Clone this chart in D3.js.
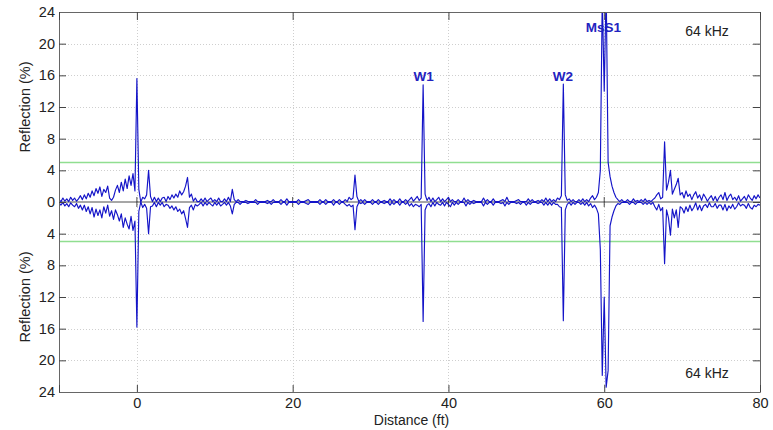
<!DOCTYPE html>
<html><head><meta charset="utf-8">
<script src="https://cdn.jsdelivr.net/npm/d3@7/dist/d3.min.js"></script>
<style>body{margin:0;background:#fff}svg{display:block}text{font-family:Arial,"Liberation Sans",sans-serif}</style>
</head><body><div id="chart"></div>
<script>
// ---- data ----
const distStart = -10, distStep = 0.25;   // sampling of the traces (ft)
const upperTrace = [
 .3,.05,.5,.1, .4,.05,.6,.2, .5,.1,.4,.8, .3,.9,.4,1.1, .6,1.4,.8,1.7, 1.1,1.9,.7,1.6, 1.2,2.0,.5,.2, .6,1.5,2.1,1.2, 2.5,1.4,2.9,1.7, 3.3,2.1,3.6,1.4,
 15.6,1.6,0,.6, .4,.9,4.0,.7, .05,.6,.05,.5, .05,.5,.6,.05, .7,.3,.9,.5, 1.0,.6,1.4,.9, 1.3,2.0,3.1,.6, 1.0,.1,.5,.05, .05,.4,.05,.5, .05,.3,.5,.05,
 .3,.05,.5,.05, .05,.4,.05,.6, .05,1.6,.3,.05, .3,.05,.05,.05, .2,.05,.05,.05, .05,.3,.05,.05, .05,.05,.05,.2, .05,.05,.3,.05, .05,.05,.3,.05, .05,.4,.05,.05,
 .05,.05,.05,.3, .05,.05,.05,.2, .3,.05,.05,.05, .05,.05,.3,.05, .05,.3,.05,.05, .05,.3,.05,.05, .3,.05,.05,.3, .05,.6,.3,.5, 3.4,.7,.05,.3, .05,.3,.05,.05,
 .05,.3,.05,.05, .3,.05,.05,.2, .05,.05,.4,.05, .3,.05,.05,.4, .05,.05,.3,.05, .3,.6,.1,.4, .7,.2,.5,14.8, 1.0,.2,.6,.05, .5,.05,.3,.6, .05,.4,.05,.3,
 .6,.05,.3,.05, .05,.3,.05,.05, .5,.05,.3,.05, .05,.2,.05,.05, .05,.05,.5,.05, .3,.05,.05,.4, .05,.05,.05,.2, .3,.05,.6,.05, .05,.05,.05,.2, .3,.05,.05,.05,
 .05,.4,.05,.3, .05,.05,.2,.05, .3,.05,.5,.05, .4,.05,.3,.05, .5,.3,.8,14.9, .9,.2,.4,.05, .3,.05,.05,.3, .05,.4,.05,.3, .05,.5,.8,.3, .6,1.2,4.0,26,
 14,27,5,3.2, 2.0,1.2,.6,.3, .05,.3,.05,.05, .3,.05,.05,.4, .05,.2,.05,.3, .05,.4,.05,.2, .05,.3,.5,.9, 1.2,.4,.6,7.6, 1.5,2.5,4.0,1.0, 1.6,2.2,3.0,.9,
 1.2,.5,1.4,.7, 1.0,.3,.9,1.3, .5,.9,.2,1.0, .6,.1,.5,.8, .2,.7,.1,.6, .9,.3,1.2,.2, .7,1.0,.3,.6, .2,.8,.1,.4, .7,.2,.9,.5, .2,.8,.4,.9,
 .5
];
const lowerTrace = [
 -.1,-.4,-.05,-.5, -.2,-.6,-.1,-.4, -.6,-.2,-.8,-.4, -1.0,-.4,-1.2,-.6, -1.5,-.7,-1.9,-.9, -1.7,-1.0,-2.0,-.6, -1.4,-.4,-1.8,-1.1, -2.2,-1.0,-1.6,-2.4, -1.5,-3.2,-2.0,-2.8, -3.4,-1.8,-3.6,-2.4,
 -15.8,-1.2,0,-.7, -.3,-.8,-4.0,-.6, -.5,-.05,-.6,-.05, -.4,-.05,-.6,-.3, -.4,-.8,-.5,-1.0, -.6,-1.2,-.9,-1.5, -1.1,-2.1,-3.2,-.7, -.4,-1.0,-.3,-.5, -.3,-.05,-.5,-.05, -.4,-.05,-.3,-.5,
 -.05,-.4,-.05,-.5, -.3,-.05,-.4,-.05, -.5,-1.5,-.3,-.05, -.05,-.3,-.05,-.05, -.05,-.2,-.05,-.05, -.05,-.05,-.3,-.05, -.05,-.05,-.05,-.2, -.05,-.3,-.05,-.05, -.05,-.05,-.3,-.05, -.05,-.4,-.05,-.05,
 -.05,-.05,-.05,-.3, -.05,-.05,-.05,-.2, -.3,-.05,-.05,-.05, -.05,-.05,-.3,-.05, -.05,-.3,-.05,-.05, -.05,-.4,-.05,-.05, -.3,-.05,-.05,-.3, -.5,-.3,-.6,-.4, -3.5,-.6,-.05,-.2, -.05,-.3,-.05,-.05,
 -.05,-.3,-.05,-.05, -.3,-.05,-.05,-.2, -.05,-.05,-.4,-.05, -.3,-.05,-.05,-.4, -.05,-.05,-.3,-.05, -.5,-.2,-.6,-.3, -.4,-.6,-.3,-15.1, -1.0,-.4,-.2,-.6, -.05,-.5,-.05,-.3, -.4,-.05,-.5,-.05,
 -.3,-.6,-.05,-.4, -.05,-.3,-.05,-.05, -.05,-.5,-.05,-.3, -.05,-.2,-.05,-.05, -.05,-.05,-.5,-.05, -.3,-.05,-.05,-.4, -.05,-.05,-.05,-.2, -.05,-.5,-.05,-.3, -.05,-.05,-.05,-.2, -.05,-.3,-.05,-.05,
 -.4,-.05,-.3,-.05, -.05,-.05,-.2,-.05, -.05,-.4,-.05,-.4, -.05,-.4,-.05,-.3, -.3,-.6,-.7,-15.0, -1.0,-.3,-.05,-.4, -.05,-.3,-.05,-.05, -.3,-.05,-.4,-.05, -.5,-.2,-.7,-.4, -.8,-1.5,-6,-21.9,
 -12,-23.4,-21.3,-3.0, -1.9,-1.1,-.5,-.2, -.3,-.05,-.05,-.05, -.05,-.3,-.05,-.05, -.3,-.05,-.05,-.05, -.3,-.05,-.3,-.05, -.3,-.05,-.6,-1.0, -.3,-1.1,-.7,-7.8, -1.0,-2.0,-4.2,-.9, -2.0,-1.0,-3.2,-.6,
 -.8,-1.4,-.6,-1.2, -.4,-1.1,-.7,-.1, -1.0,-.4,-1.1,-.5, -.3,-.7,-.1,-.6, -.6,-.2,-.8,-.4, -.4,-1.0,-.3,-1.1, -.5,-.8,-.3,-.9, -.6,-.1,-.5,-.3, -.4,-.8,-.2,-.7, -.9,-.4,-.6,-.3,
 -.4
];
const xTicks = [-10, 0, 20, 40, 60, 80];
const xTickLabels = ["", "0", "20", "40", "60", "80"];
const yTicks = [-24, -20, -16, -12, -8, -4, 0, 4, 8, 12, 16, 20, 24];
const thresholds = [5, -5];
const peakLabels = [
  {name: "W1", x: 36.8, y: 15.3},
  {name: "W2", x: 54.7, y: 15.3},
  {name: "MsS1", x: 59.9, y: 21.5}
];
const freqLabel = "64 kHz";
const xTitle = "Distance (ft)";
const yTitle = "Reflection (%)";

// ---- layout ----
const W = 773, H = 430;
const L = 59, R = 760, T = 12, B = 392;
const x = d3.scaleLinear().domain([-10, 80]).range([L, R]);
const y = d3.scaleLinear().domain([-24, 24]).range([B, T]);

const svg = d3.select("#chart").append("svg").attr("width", W).attr("height", H);

svg.append("defs").append("clipPath").attr("id", "clip")
  .append("rect").attr("x", L).attr("y", T).attr("width", R - L).attr("height", B - T);

// grid
const grid = svg.append("g").attr("stroke", "#cfcfcf").attr("stroke-width", 1).attr("stroke-dasharray", "1,2");
grid.selectAll(".gx").data(xTicks.filter(v => v > -10 && v < 80)).join("line")
  .attr("x1", d => Math.round(x(d)) + 0.5).attr("x2", d => Math.round(x(d)) + 0.5)
  .attr("y1", T).attr("y2", B);
grid.selectAll(".gy").data(yTicks.filter(v => v !== 0 && Math.abs(v) < 24)).join("line")
  .attr("x1", L).attr("x2", R)
  .attr("y1", d => Math.round(y(d)) + 0.5).attr("y2", d => Math.round(y(d)) + 0.5);

// thresholds
svg.append("g").selectAll("line").data(thresholds).join("line")
  .attr("x1", L).attr("x2", R).attr("y1", d => y(d)).attr("y2", d => y(d))
  .attr("stroke", "#90de90").attr("stroke-width", 1.5);

// zero axis
const zeroG = svg.append("g").attr("stroke", "#222").attr("stroke-width", 0.8);
zeroG.append("line").attr("x1", L).attr("x2", R).attr("y1", y(0)).attr("y2", y(0));
zeroG.selectAll(".zt").data(xTicks.filter(v => v > -10 && v < 80)).join("line")
  .attr("x1", d => x(d)).attr("x2", d => x(d)).attr("y1", y(0) - 5).attr("y2", y(0) + 5);

// traces
const pts = arr => arr.map((v, i) => [distStart + i * distStep, v]);
const line = d3.line().x(d => x(d[0])).y(d => y(d[1]));
const tr = svg.append("g").attr("clip-path", "url(#clip)");
[upperTrace, lowerTrace].forEach(a => {
  tr.append("path").datum(pts(a)).attr("d", line)
    .attr("fill", "none").attr("stroke", "#1414c8").attr("stroke-width", 1.15).attr("stroke-linejoin", "round");
});

// axes
const fmtY = d => Math.abs(d);
const axStyle = g => {
  g.select(".domain").attr("stroke", "#666");
  g.selectAll(".tick line").attr("stroke", "#444");
  g.selectAll("text").attr("font-size", 14.5).attr("fill", "#222");
};
svg.append("g").attr("transform", `translate(${L},0)`)
  .call(d3.axisLeft(y).tickValues(yTicks).tickFormat(fmtY).tickSizeInner(-7).tickSizeOuter(0).tickPadding(4))
  .call(axStyle);
svg.append("g").attr("transform", `translate(${R},0)`)
  .call(d3.axisRight(y).tickValues(yTicks).tickFormat("").tickSizeInner(-7).tickSizeOuter(0))
  .call(axStyle);
svg.append("g").attr("transform", `translate(0,${B})`)
  .call(d3.axisBottom(x).tickValues(xTicks).tickFormat((d, i) => xTickLabels[i]).tickSizeInner(-7).tickSizeOuter(0).tickPadding(6))
  .call(axStyle);
svg.append("g").attr("transform", `translate(0,${T})`)
  .call(d3.axisTop(x).tickValues(xTicks).tickFormat("").tickSizeInner(-8).tickSizeOuter(0))
  .call(axStyle);

// titles
svg.append("text").attr("x", (L + R) / 2 + 2).attr("y", 425).attr("text-anchor", "middle")
  .attr("font-size", 14).attr("fill", "#222").text(xTitle);
[[(T + y(0)) / 2], [(y(0) + B) / 2]].forEach(([cy]) => {
  svg.append("text").attr("transform", `translate(30,${cy}) rotate(-90)`).attr("text-anchor", "middle")
    .attr("font-size", 14.5).attr("fill", "#222").text(yTitle);
});
svg.append("text").attr("x", 707).attr("y", 36).attr("text-anchor", "middle").attr("font-size", 14).attr("fill", "#222").text(freqLabel);
svg.append("text").attr("x", 707).attr("y", 378).attr("text-anchor", "middle").attr("font-size", 14).attr("fill", "#222").text(freqLabel);

// peak labels
svg.append("g").selectAll("text").data(peakLabels).join("text")
  .attr("x", d => x(d.x)).attr("y", d => y(d.y)).attr("text-anchor", "middle")
  .attr("font-size", 13.5).attr("font-weight", "bold").attr("fill", "#2222c0").text(d => d.name);
</script></body></html>
